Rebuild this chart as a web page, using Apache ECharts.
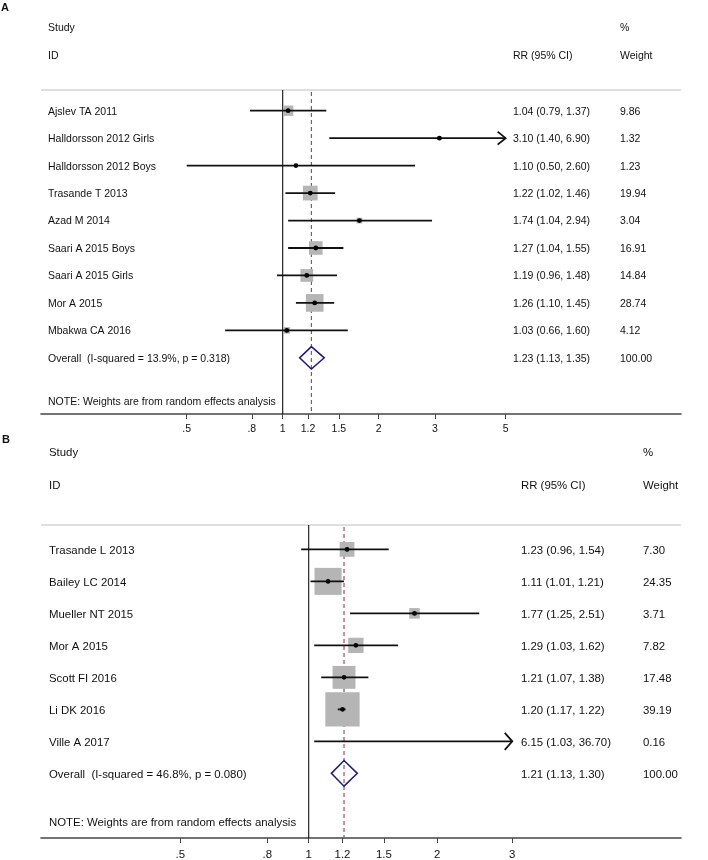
<!DOCTYPE html>
<html><head><meta charset="utf-8">
<script src="https://cdn.jsdelivr.net/npm/echarts@6/dist/echarts.min.js"></script>
<style>html,body{margin:0;padding:0;background:#fff}#c{width:708px;height:860px}</style>
</head><body><div id="c"></div>
<script>
// ---------- Panel A data ----------
const studiesA = ['Ajslev TA 2011','Halldorsson 2012 Girls','Halldorsson 2012 Boys','Trasande T 2013','Azad M 2014','Saari A 2015 Boys','Saari A 2015 Girls','Mor A 2015','Mbakwa CA 2016'];
const rrA     = [1.04, 3.10, 1.10, 1.22, 1.74, 1.27, 1.19, 1.26, 1.03];
const lowA    = [0.79, 1.40, 0.50, 1.02, 1.04, 1.04, 0.96, 1.10, 0.66];
const highA   = [1.37, 6.90, 2.60, 1.46, 2.94, 1.55, 1.48, 1.45, 1.60];
const weightA = [9.86, 1.32, 1.23, 19.94, 3.04, 16.91, 14.84, 28.74, 4.12];
const overallLabelA = 'Overall  (I-squared = 13.9%, p = 0.318)';
const overallA = [1.23, 1.13, 1.35, 100.00];
const ticksA = [0.5, 0.8, 1, 1.2, 1.5, 2, 3, 5];
const tickLabelsA = ['.5', '.8', '1', '1.2', '1.5', '2', '3', '5'];

// ---------- Panel B data ----------
const studiesB = ['Trasande L 2013','Bailey LC 2014','Mueller NT 2015','Mor A 2015','Scott FI 2016','Li DK 2016','Ville A 2017'];
const rrB     = [1.23, 1.11, 1.77, 1.29, 1.21, 1.20, 6.15];
const lowB    = [0.96, 1.01, 1.25, 1.03, 1.07, 1.17, 1.03];
const highB   = [1.54, 1.21, 2.51, 1.62, 1.38, 1.22, 36.70];
const weightB = [7.30, 24.35, 3.71, 7.82, 17.48, 39.19, 0.16];
const overallLabelB = 'Overall  (I-squared = 46.8%, p = 0.080)';
const overallB = [1.21, 1.13, 1.30, 100.00];
const ticksB = [0.5, 0.8, 1, 1.2, 1.5, 2, 3];
const tickLabelsB = ['.5', '.8', '1', '1.2', '1.5', '2', '3'];

const noteText = 'NOTE: Weights are from random effects analysis';
const FONT = '"Liberation Sans", Arial, Helvetica, sans-serif';
const TXT = '#111';

const panels = [
  {studies: studiesA, rr: rrA, lo: lowA, hi: highA, w: weightA, ovLabel: overallLabelA, ov: overallA,
   ticks: ticksA, tickLabels: tickLabelsA, clip: 5,
   grid: {left: 41, right: 27, top: 90, height: 324},
   xmin: -1.7451, xmax: 2.8758, ymin: -0.754, ymax: 11.045,
   fs: 10.5, boxK: 3.3, nameX: 48, rrX: 513, wX: 620, noteRow: 10.57, diamH: 0.41, arrow: [8, 6.5], labelMargin: 10},
  {studies: studiesB, rr: rrB, lo: lowB, hi: highB, w: weightB, ovLabel: overallLabelB, ov: overallB,
   ticks: ticksB, tickLabels: tickLabelsB, clip: 3,
   grid: {left: 41, right: 27, top: 525, height: 314.5},
   xmin: -1.4447, xmax: 2.0092, ymin: -0.762, ymax: 9.02,
   fs: 11.4, boxK: 5.48, nameX: 49, rrX: 521, wX: 643, noteRow: 8.5, diamH: 0.40, arrow: [7.5, 8.5], labelMargin: 11}
];

const grids = [], xAxes = [], yAxes = [], series = [];
panels.forEach((p, k) => {
  grids.push(p.grid);
  xAxes.push({
    gridIndex: k, type: 'value', min: p.xmin, max: p.xmax,
    axisLine: {show: true, onZero: false, lineStyle: {color: '#444', width: 1.6}},
    axisTick: {show: true, length: 5, customValues: p.ticks.map(Math.log), lineStyle: {color: '#444', width: 1}},
    axisLabel: {show: true, customValues: p.ticks.map(Math.log), margin: p.labelMargin, color: TXT, fontFamily: FONT, fontSize: p.fs,
      formatter: v => { let j = p.ticks.findIndex(t => Math.abs(Math.log(t) - v) < 1e-6); return j >= 0 ? p.tickLabels[j] : ''; }},
    splitLine: {show: false}
  });
  yAxes.push({gridIndex: k, type: 'value', inverse: true, min: p.ymin, max: p.ymax, show: false});

  const n = p.studies.length;
  // frame: null line, overall dashed line, header rule
  series.push({
    type: 'custom', xAxisIndex: k, yAxisIndex: k, silent: true, clip: false,
    data: [[0]],
    renderItem: (params, api) => {
      const cs = params.coordSys;
      const x1 = api.coord([Math.log(1), 0])[0];
      const xo = api.coord([Math.log(p.ov[0]), 0])[0];
      return {type: 'group', children: [
        {type: 'line', shape: {x1: cs.x, y1: cs.y, x2: cs.x + cs.width, y2: cs.y}, style: {stroke: '#d4d4d4', lineWidth: 1.6}},
        {type: 'line', shape: {x1: x1, y1: cs.y, x2: x1, y2: cs.y + cs.height}, style: {stroke: '#111', lineWidth: 1.1}},
        {type: 'line', shape: {x1: xo, y1: cs.y + 2, x2: xo, y2: cs.y + cs.height}, style: {stroke: '#a23a4c', lineWidth: 1.1, lineDash: [4, 3]}}
      ]};
    }
  });
  // study rows
  series.push({
    type: 'custom', xAxisIndex: k, yAxisIndex: k, silent: true, clip: false,
    data: p.studies.map((s, i) => [i, p.rr[i], p.lo[i], p.hi[i], p.w[i]]),
    renderItem: (params, api) => {
      const i = api.value(0), rr = api.value(1), lo = api.value(2), hi = api.value(3), w = api.value(4);
      const y = api.coord([0, i])[1];
      const xc = api.coord([Math.log(p.clip), i])[0];
      const xl = api.coord([Math.log(lo), i])[0];
      let xh = api.coord([Math.log(hi), i])[0];
      const xr = api.coord([Math.log(rr), i])[0];
      const arrow = hi > p.clip;
      if (arrow) xh = xc;
      const side = p.boxK * Math.sqrt(w);
      const ch = [];
      if (rr <= p.clip) ch.push({type: 'rect', shape: {x: xr - side / 2, y: y - side / 2, width: side, height: side}, style: {fill: '#b5b5b5'}});
      ch.push({type: 'line', shape: {x1: xl, y1: y, x2: xh, y2: y}, style: {stroke: '#111', lineWidth: 1.8}});
      if (rr <= p.clip) ch.push({type: 'circle', shape: {cx: xr, cy: y, r: 2.4}, style: {fill: '#000'}});
      if (arrow) ch.push({type: 'polyline', shape: {points: [[xh - p.arrow[0], y - p.arrow[1]], [xh, y], [xh - p.arrow[0], y + p.arrow[1]]]}, style: {stroke: '#111', lineWidth: 1.8, fill: null}});
      return {type: 'group', children: ch};
    }
  });
  // overall diamond
  series.push({
    type: 'custom', xAxisIndex: k, yAxisIndex: k, silent: true, clip: false,
    data: [[n, p.ov[0], p.ov[1], p.ov[2]]],
    renderItem: (params, api) => {
      const i = api.value(0);
      const y = api.coord([0, i])[1];
      const y0 = api.coord([0, i - p.diamH])[1], y1 = api.coord([0, i + p.diamH])[1];
      const xr = api.coord([Math.log(api.value(1)), i])[0];
      const xl = api.coord([Math.log(api.value(2)), i])[0];
      const xh = api.coord([Math.log(api.value(3)), i])[0];
      return {type: 'polygon', shape: {points: [[xl, y], [xr, y0], [xh, y], [xr, y1]]}, style: {stroke: '#1d1d78', lineWidth: 1.5, fill: null}};
    }
  });
  // text columns
  const names = p.studies.concat([p.ovLabel]);
  const rrs = p.rr.concat([p.ov[0]]), los = p.lo.concat([p.ov[1]]), his = p.hi.concat([p.ov[2]]), ws = p.w.concat([p.ov[3]]);
  series.push({
    type: 'custom', xAxisIndex: k, yAxisIndex: k, silent: true, clip: false,
    data: names.map((s, i) => [i]),
    renderItem: (params, api) => {
      const i = api.value(0), j = params.dataIndex;
      const y = api.coord([0, i])[1] + 1;
      const st = (t, x) => ({type: 'text', x: x, y: y, style: {text: t, fill: TXT, font: p.fs + 'px ' + FONT, textVerticalAlign: 'middle', textAlign: 'left'}});
      const ch = [
        st(names[j], p.nameX),
        st(rrs[j].toFixed(2) + ' (' + los[j].toFixed(2) + ', ' + his[j].toFixed(2) + ')', p.rrX),
        st(ws[j].toFixed(2), p.wX)
      ];
      if (j === names.length - 1) {
        const yn = api.coord([0, p.noteRow])[1] + 1;
        ch.push({type: 'text', x: p.nameX, y: yn, style: {text: noteText, fill: TXT, font: p.fs + 'px ' + FONT, textVerticalAlign: 'middle'}});
      }
      return {type: 'group', children: ch};
    }
  });
});

const hdr = (t, x, y, fs, bold) => ({type: 'text', x: x, y: y, style: {text: t, fill: TXT, font: (bold ? 'bold ' : '') + fs + 'px ' + FONT, textVerticalAlign: 'middle'}});
const graphic = [
  hdr('A', 1, 7.5, 11, true),
  hdr('Study', 48, 28.5, 10.5), hdr('ID', 48, 56, 10.5), hdr('%', 620, 28.5, 10.5),
  hdr('RR (95% CI)', 513, 56, 10.5), hdr('Weight', 620, 56, 10.5),
  hdr('B', 2, 439.5, 11, true),
  hdr('Study', 49, 453, 11.4), hdr('ID', 49, 486, 11.4), hdr('%', 643, 453, 11.4),
  hdr('RR (95% CI)', 521, 486, 11.4), hdr('Weight', 643, 486, 11.4)
];

const chart = echarts.init(document.getElementById('c'), null, {renderer: 'canvas'});
chart.setOption({
  animation: false,
  backgroundColor: '#fff',
  grid: grids, xAxis: xAxes, yAxis: yAxes, series: series, graphic: graphic
});
</script></body></html>
